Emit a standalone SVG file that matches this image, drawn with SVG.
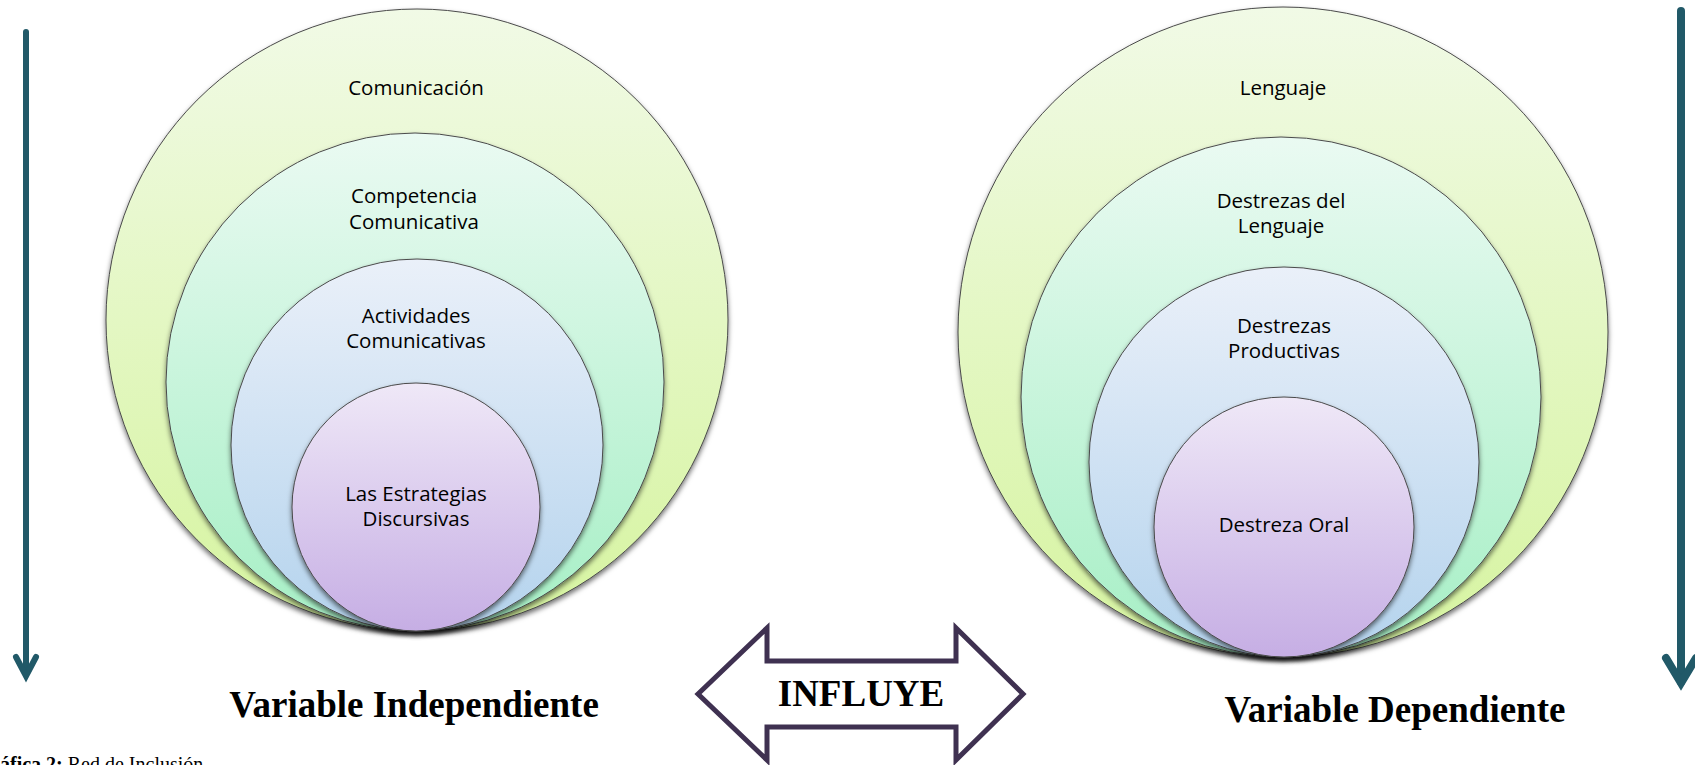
<svg xmlns="http://www.w3.org/2000/svg" width="1695" height="765" viewBox="0 0 1695 765">
<defs>
<linearGradient id="g1" x1="0" y1="0" x2="0" y2="1"><stop offset="0" stop-color="#f1fae6"/><stop offset="1" stop-color="#d6f4a0"/></linearGradient>
<linearGradient id="g2" x1="0" y1="0" x2="0" y2="1"><stop offset="0" stop-color="#eafaf2"/><stop offset="1" stop-color="#a6efc5"/></linearGradient>
<linearGradient id="g3" x1="0" y1="0" x2="0" y2="1"><stop offset="0" stop-color="#eaf0f9"/><stop offset="1" stop-color="#b4d3ed"/></linearGradient>
<linearGradient id="g4" x1="0" y1="0" x2="0" y2="1"><stop offset="0" stop-color="#efe8f7"/><stop offset="1" stop-color="#c6aee4"/></linearGradient>
<filter id="sh" x="-10%" y="-10%" width="120%" height="125%"><feDropShadow dx="0" dy="3" stdDeviation="2.5" flood-color="#000" flood-opacity="0.55"/></filter>
</defs>
<style>
.c{stroke:#4a4a4a;stroke-width:1;filter:url(#sh)}
.t{font-family:"Open Sans","Noto Sans",sans-serif;font-size:20.5px;fill:#000;text-anchor:middle}
.title{font-family:"Liberation Serif","Times New Roman",serif;font-weight:bold;font-size:37px;fill:#000;text-anchor:middle}
.ar{fill:none;stroke:#215968;stroke-linecap:round}
</style>
<rect width="1695" height="765" fill="#fff"/>

<g id="connectors">
<line class="ar" x1="26" y1="32" x2="26" y2="674" stroke-width="6" stroke-linecap="butt"/>
<polyline class="ar" points="16,657 26,676 36,657" stroke-width="6" stroke-linejoin="miter"/>
<line class="ar" x1="1681" y1="11" x2="1681" y2="682" stroke-width="8" stroke-linecap="butt"/>
<polyline class="ar" points="1666,658 1681,683 1696,658" stroke-width="8" stroke-linejoin="miter"/>
</g>

<g id="node-comunicacion">
<circle class="c" cx="417" cy="320" r="311" fill="url(#g1)"/>
<text class="t" x="416" y="95">Comunicación</text>
</g>
<g id="node-competencia">
<circle class="c" cx="415" cy="382" r="249" fill="url(#g2)"/>
<text class="t" x="414" y="203">Competencia</text>
<text class="t" x="414" y="229">Comunicativa</text>
</g>
<g id="node-actividades">
<circle class="c" cx="417" cy="445" r="186" fill="url(#g3)"/>
<text class="t" x="416" y="323">Actividades</text>
<text class="t" x="416" y="348">Comunicativas</text>
</g>
<g id="node-estrategias">
<circle class="c" cx="416" cy="507" r="124" fill="url(#g4)"/>
<text class="t" x="416" y="501">Las Estrategias</text>
<text class="t" x="416" y="526">Discursivas</text>
</g>

<g id="node-lenguaje">
<circle class="c" cx="1283" cy="332" r="325" fill="url(#g1)"/>
<text class="t" x="1283" y="95">Lenguaje</text>
</g>
<g id="node-destrezas-lenguaje">
<circle class="c" cx="1281" cy="397" r="260" fill="url(#g2)"/>
<text class="t" x="1281" y="208">Destrezas del</text>
<text class="t" x="1281" y="233">Lenguaje</text>
</g>
<g id="node-destrezas-productivas">
<circle class="c" cx="1284" cy="462" r="195" fill="url(#g3)"/>
<text class="t" x="1284" y="333">Destrezas</text>
<text class="t" x="1284" y="358">Productivas</text>
</g>
<g id="node-destreza-oral">
<circle class="c" cx="1284" cy="527" r="130" fill="url(#g4)"/>
<text class="t" x="1284" y="532">Destreza Oral</text>
</g>

<g id="label-independiente">
<text class="title" x="414" y="717">Variable Independiente</text>
</g>
<g id="label-dependiente">
<text class="title" x="1395" y="722">Variable Dependiente</text>
</g>

<g id="node-influye">
<polygon points="698,694 767,628 767,661 956,661 956,628 1023,694 956,760 956,727 767,727 767,760" fill="#fff" stroke="#3f3151" stroke-width="5" stroke-linejoin="miter"/>
<text class="title" x="861" y="706">INFLUYE</text>
</g>

<g id="caption">
<text x="0" y="771" font-family="Liberation Serif,'Times New Roman',serif" font-size="20" fill="#000"><tspan font-weight="bold">áfica 2:</tspan> Red de Inclusión</text>
</g>
</svg>
